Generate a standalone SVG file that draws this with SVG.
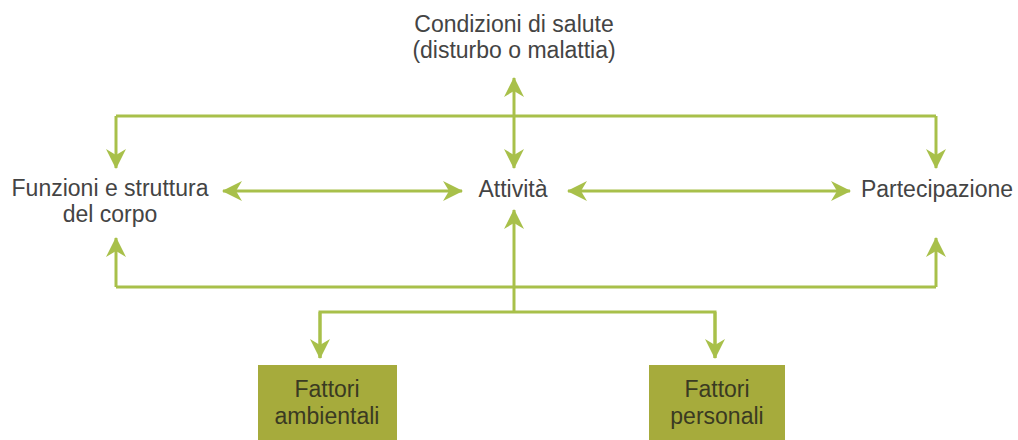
<svg xmlns="http://www.w3.org/2000/svg" width="1018" height="440" viewBox="0 0 1018 440">
  <style>
    .lbl { font-family: "Liberation Sans", Arial, sans-serif; font-size: 23px; fill: #444444; text-anchor: middle; }
    .box { fill: #a6ab3c; }
    .box-lbl { font-family: "Liberation Sans", Arial, sans-serif; font-size: 23px; fill: #3a3a22; text-anchor: middle; }
    .link { stroke: #a8c04a; stroke-width: 3; fill: none; }
  </style>
  <defs>
    <marker id="arrow" viewBox="0 0 20 20" refX="19" refY="10" markerWidth="20" markerHeight="20" markerUnits="userSpaceOnUse" orient="auto-start-reverse">
      <path d="M0,0 L20,10 L0,20 L6,10 z" fill="#a8c04a"/>
    </marker>
  </defs>
  <rect width="1018" height="440" fill="#ffffff"/>

  <g id="connectors">
    <!-- upper bus from health conditions -->
    <line class="link" x1="116" y1="116" x2="936" y2="116"/>
    <line class="link" x1="514" y1="78" x2="514" y2="168" marker-start="url(#arrow)" marker-end="url(#arrow)"/>
    <line class="link" x1="116" y1="116" x2="116" y2="168" marker-end="url(#arrow)"/>
    <line class="link" x1="936" y1="116" x2="936" y2="168" marker-end="url(#arrow)"/>
    <!-- middle row links -->
    <line class="link" x1="223" y1="191" x2="462" y2="191" marker-start="url(#arrow)" marker-end="url(#arrow)"/>
    <line class="link" x1="568" y1="191" x2="850" y2="191" marker-start="url(#arrow)" marker-end="url(#arrow)"/>
    <!-- lower bus -->
    <line class="link" x1="116" y1="287" x2="936" y2="287"/>
    <line class="link" x1="116" y1="287" x2="116" y2="238" marker-end="url(#arrow)"/>
    <line class="link" x1="936" y1="287" x2="936" y2="238" marker-end="url(#arrow)"/>
    <line class="link" x1="514" y1="312" x2="514" y2="210" marker-end="url(#arrow)"/>
    <!-- contextual factors -->
    <polyline class="link" points="320,358 320,312 715,312 715,358"/>
    <line class="link" x1="320" y1="312" x2="320" y2="358" marker-end="url(#arrow)"/>
    <line class="link" x1="715" y1="312" x2="715" y2="358" marker-end="url(#arrow)"/>
  </g>

  <g id="condizioni">
    <text class="lbl" x="514" y="32">Condizioni di salute</text>
    <text class="lbl" x="514" y="58">(disturbo o malattia)</text>
  </g>

  <g id="funzioni">
    <text class="lbl" x="110" y="196">Funzioni e struttura</text>
    <text class="lbl" x="110" y="222">del corpo</text>
  </g>

  <g id="attivita">
    <text class="lbl" x="513" y="197">Attività</text>
  </g>

  <g id="partecipazione">
    <text class="lbl" x="937" y="197">Partecipazione</text>
  </g>

  <g id="fattori-ambientali">
    <rect class="box" x="258" y="365" width="139" height="80"/>
    <text class="box-lbl" x="327" y="397">Fattori</text>
    <text class="box-lbl" x="327" y="424">ambientali</text>
  </g>

  <g id="fattori-personali">
    <rect class="box" x="649" y="365" width="136" height="80"/>
    <text class="box-lbl" x="717" y="397">Fattori</text>
    <text class="box-lbl" x="717" y="424">personali</text>
  </g>
</svg>
